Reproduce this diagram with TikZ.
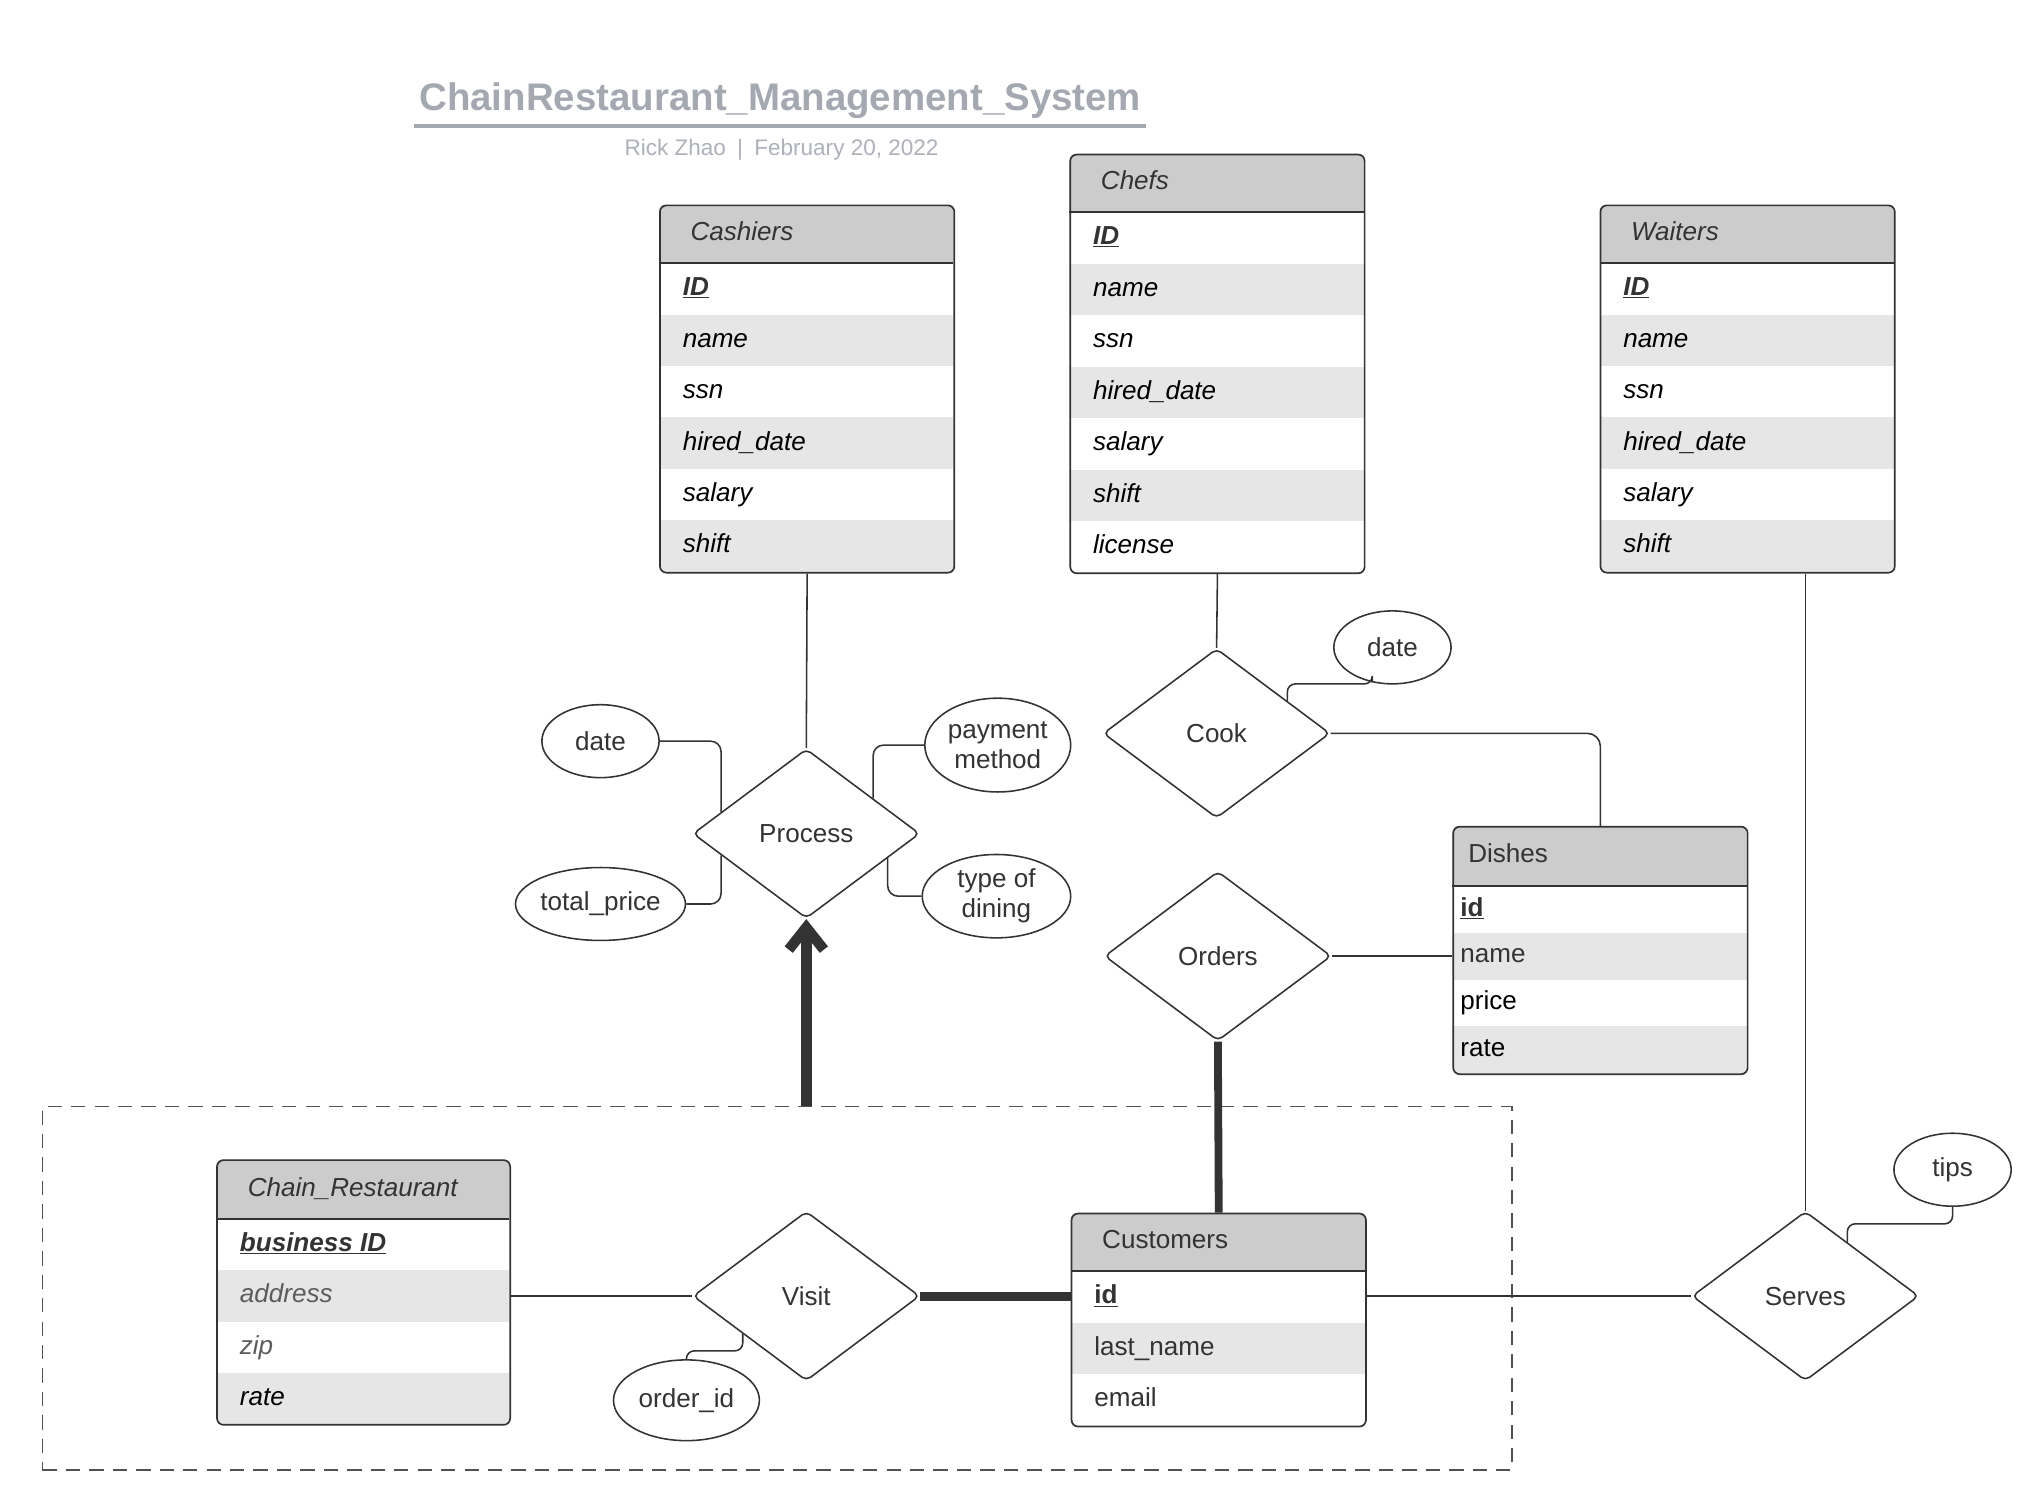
\documentclass[tikz,border=0pt]{standalone}
\usepackage{fontspec}
\setmainfont{Liberation Sans}
\usetikzlibrary{shapes.geometric,calc,arrows.meta}
\definecolor{hdr}{HTML}{CCCCCC}
\definecolor{alt}{HTML}{E6E6E6}
\definecolor{ink}{HTML}{333333}
\definecolor{ttl}{HTML}{A4A9B1}
\newcommand{\tfont}{\fontsize{20}{23}\selectfont}
% #1 name #2 x #3 y #4 w #5 header h #6 row h #7 rows #8 header text #9 row list
\newcommand{\erent}[9]{%
  \pgfmathsetmacro\erH{#5+#6*#7}%
  \fill[white,rounded corners=5pt] (#2,#3) rectangle ++(#4,\erH);
  \begin{scope}
    \clip[rounded corners=5pt] (#2,#3) rectangle ++(#4,\erH);
    \fill[hdr] (#2,#3) rectangle ++(#4,#5);
    \foreach \k in {1,...,#7}{\ifodd\k\else\fill[alt] (#2,#3+#5+#6*\k-#6) rectangle ++(#4,#6);\fi}
  \end{scope}
  \draw[ink,line width=1.8pt] (#2,#3+#5) -- ++(#4,0);
  \node[draw=ink, line width=1.3pt, rounded corners=5pt, minimum width=#4 pt,
        minimum height=\erH pt, inner sep=0pt, anchor=north west] (#1) at (#2,#3) {};
  \node[etext, text=ink] (#1-h) at (#2+\hoff, #3+#5/2) {\erfont #8};
  \foreach \rowtxt [count=\k] in {#9}{
    \node[etext] (#1-\k) at (#2+\roff, #3+#5+#6*\k-#6/2) {\erfont\rowtxt};
  }%
}
\begin{document}
\begin{tikzpicture}[x=1pt,y=-1pt,
  etext/.style={anchor=west, inner sep=0pt, font=\tfont, text height=14.5pt, text depth=4pt},
  rel/.style={diamond, draw=ink, line width=1.2pt, fill=white, minimum width=174pt,
     minimum height=130pt, inner sep=0pt, rounded corners=4pt, font=\tfont, text=ink},
  attrib/.style={ellipse, draw=ink, line width=1.2pt, fill=white, inner sep=0pt,
     font=\tfont, text=ink, align=center},
  conn/.style={draw=ink, line width=1.2pt},
  thick conn/.style={draw=ink, line width=7pt},
]
\fill[white] (0,0) rectangle (1560,1144);
\useasboundingbox (0,0) rectangle (1560,1144);

% group box
\node[draw=ink!85, dashed, dash pattern=on 11pt off 7pt, line width=1.2pt,
      minimum width=1128pt, minimum height=279pt, anchor=north west, inner sep=0pt] (grp) at (32,849) {};

% title
\node[font=\bfseries\fontsize{29.5}{34}\selectfont, text=ttl] (title) at (599,77) {ChainRestaurant\_Management\_System};
\draw[ttl, line width=3pt] (318,97) -- (880,97);
\node[font=\fontsize{17.3}{20}\selectfont, text=ttl!90] (sub) at (600,115) {Rick Zhao\enspace|\enspace February 20, 2022};

% entities
\def\erfont{\itshape}\def\hoff{24}\def\roff{18}
\erent{cashiers}{506}{157}{226}{45}{39.5}{6}{Cashiers}{{\color{ink}\underline{\textbf{ID}}},name,ssn,hired\_date,salary,shift}
\erent{chefs}{821}{118}{226}{45}{39.5}{7}{Chefs}{{\color{ink}\underline{\textbf{ID}}},name,ssn,hired\_date,salary,shift,license}
\erent{waiters}{1228}{157}{226}{45}{39.5}{6}{Waiters}{{\color{ink}\underline{\textbf{ID}}},name,ssn,hired\_date,salary,shift}
\erent{chain}{166}{890}{225}{46}{39.3}{4}{Chain\_Restaurant}{{\color{ink}\underline{\textbf{business ID}}},{\color{ink!80}address},{\color{ink!80}zip},rate}
\def\erfont{}\def\hoff{12}\def\roff{6}
\erent{dishes}{1115}{634}{226}{46}{36}{4}{Dishes}{{\color{ink}\underline{\textbf{id}}},{\color{ink}name},price,rate}
\def\hoff{24}\def\roff{18}
\erent{customers}{822}{931}{226}{45}{39.5}{3}{Customers}{{\color{ink}\underline{\textbf{id}}},{\color{ink}last\_name},{\color{ink}email}}

% relationships
\node[rel] (proc) at (619,640) {Process};
\node[rel] (cook) at (934,563) {Cook};
\node[rel] (orders) at (935,734) {Orders};
\node[rel] (visit) at (619,995) {Visit};
\node[rel] (serves) at (1386,995) {Serves};

% attributes
\node[attrib, minimum width=90pt, minimum height=56pt] (pdate) at (461,569) {date};
\node[attrib, minimum width=114pt, minimum height=56pt] (ptotal) at (461,694) {total\_price};
\node[attrib, minimum width=112pt, minimum height=72pt] (ppay) at (766,572) {payment\\method};
\node[attrib, minimum width=114pt, minimum height=64pt] (pdine) at (765,688) {type of\\dining};
\node[attrib, minimum width=90pt, minimum height=56pt] (cdate) at (1069,497) {date};
\node[attrib, minimum width=112pt, minimum height=62pt] (oid) at (527,1075) {order\_id};
\node[attrib, minimum width=90pt, minimum height=56pt] (tips) at (1499,898) {tips};

% connectors
\draw[conn] (cashiers.south) -- (proc.north);
\draw[conn] (chefs.south) -- (cook.north);
\draw[conn, rounded corners=10pt] (cook.east) -| (dishes.north);
\draw[conn] (serves.north |- waiters.south) -- (serves.north);
\draw[conn] (orders.east) -- (orders.east -| dishes.west);
\draw[conn] (visit.west -| chain.east) -- (visit.west);
\draw[conn] (serves.west -| customers.east) -- (serves.west);
\draw[thick conn, line width=6pt] (orders.south) -- (customers.north);
\draw[thick conn] (visit.east) -- (visit.east -| customers.west);
\draw[ink, line width=8pt, -{Straight Barb[length=17pt,width=27pt,line cap=butt,line join=miter]}]
  (grp.north -| proc.south) -- (proc.south);

% attribute links
\coordinate (e1) at ($(proc.west)!0.253!(proc.north)$);
\coordinate (e2) at ($(proc.west)!0.253!(proc.south)$);
\coordinate (e3) at ($(proc.east)!0.414!(proc.north)$);
\coordinate (e4) at ($(proc.east)!0.287!(proc.south)$);
\coordinate (e5) at ($(cook.north)!0.62!(cook.east)$);
\coordinate (e6) at ($(visit.west)!0.443!(visit.south)$);
\coordinate (e7) at ($(serves.north)!0.368!(serves.east)$);
\draw[conn, rounded corners=8pt] (pdate.east) -| (e1);
\draw[conn, rounded corners=8pt] (ptotal.east) -| (e2);
\draw[conn, rounded corners=8pt] (ppay.west) -| (e3);
\draw[conn, rounded corners=8pt] (pdine.west) -| (e4);
\draw[conn, rounded corners=6pt] (cdate.240) |- ($(e5)+(0,-13)$) -- (e5);
\draw[conn, rounded corners=6pt] (oid.north) |- ($(e6)+(0,13)$) -- (e6);
\draw[conn, rounded corners=6pt] (tips.south) |- ($(e7)+(0,-14)$) -- (e7);
\end{tikzpicture}
\end{document}
